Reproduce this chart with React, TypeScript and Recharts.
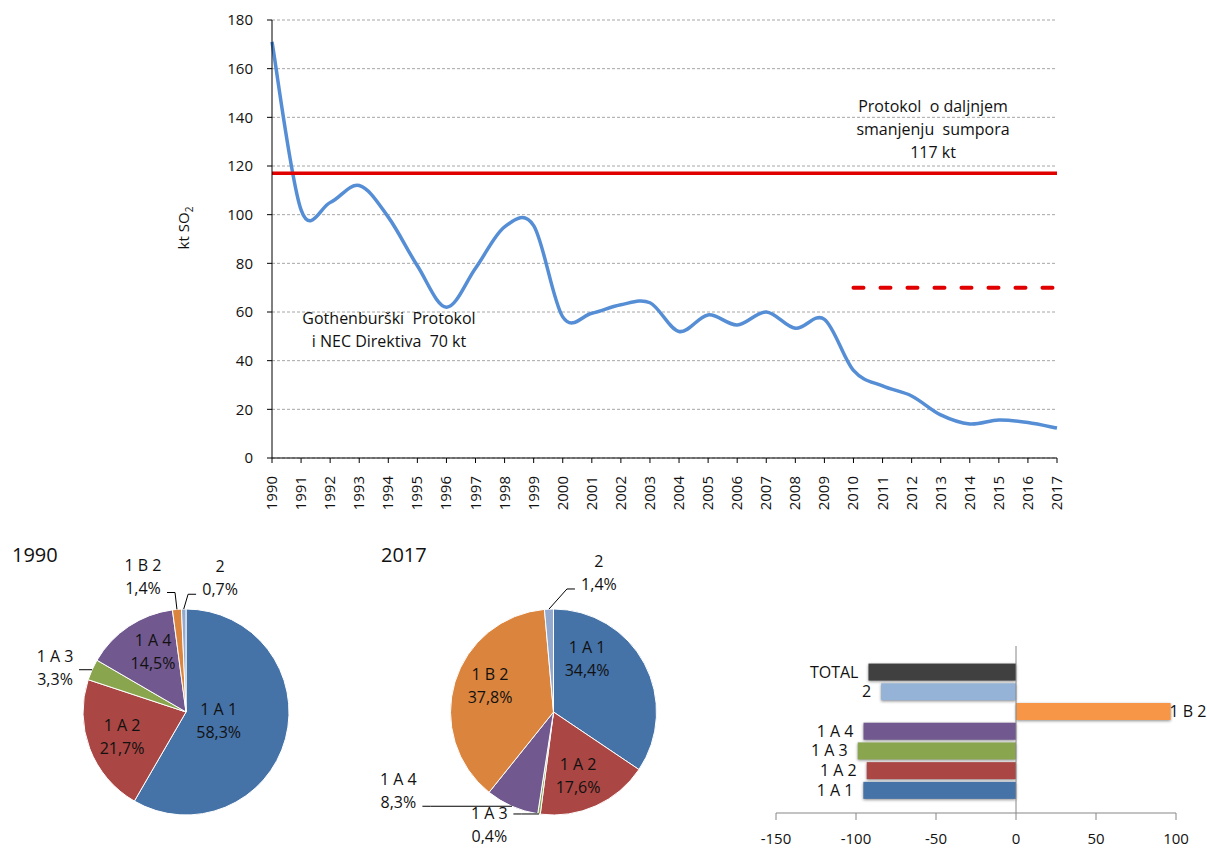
import React from 'react';
import {
  LineChart, Line, XAxis, YAxis, CartesianGrid, ReferenceLine,
  PieChart, Pie, Cell, BarChart, Bar, LabelList,
} from 'recharts';

const FONT = "'Open Sans', 'Noto Sans', sans-serif";
const TEXT = '#111';
const NB = '\u00A0';

// SO2 emissions, kt
const years = [
  '1990', '1991', '1992', '1993', '1994', '1995', '1996', '1997', '1998', '1999',
  '2000', '2001', '2002', '2003', '2004', '2005', '2006', '2007', '2008', '2009',
  '2010', '2011', '2012', '2013', '2014', '2015', '2016', '2017',
];
const emissions = [
  171, 102, 105, 112, 99, 79, 62, 78, 95, 95.5,
  58, 59.5, 63, 63.8, 52, 58.8, 54.7, 60, 53.3, 57,
  36, 29.6, 25.5, 17.7, 14, 15.6, 14.6, 12.3,
];
const yTicks = [0, 20, 40, 60, 80, 100, 120, 140, 160, 180];
const protocolLimit = 117;
const necLimit = 70;
const necFrom = '2010';

// sector shares, %
const sectors = ['1 A 1', '1 A 2', '1 A 3', '1 A 4', '1 B 2', '2'];
const share1990 = [58.3, 21.7, 3.3, 14.5, 1.4, 0.7];
const share2017 = [34.4, 17.6, 0.4, 8.3, 37.8, 1.4];
const pieColors = ['#4572A7', '#AA4643', '#89A54E', '#71588F', '#DB843D', '#93A9CF'];

// change 1990-2017, %
const barNames = ['TOTAL', '2', '1 B 2', '1 A 4', '1 A 3', '1 A 2', '1 A 1'];
const barChanges = [-92.2, -84.3, 96.6, -95.3, -98.9, -93.3, -95.4];
const barColors = ['#404040', '#95B3D7', '#F79646', '#71588F', '#89A54E', '#AA4643', '#4572A7'];
const barTicks = [-150, -100, -50, 0, 50, 100];

const lineData = years.map((year, i) => ({ year, so2: emissions[i] }));
const pie1990 = sectors.map((name, i) => ({ name, value: share1990[i] }));
const pie2017 = sectors.map((name, i) => ({ name, value: share2017[i] }));
const barData = barNames.map((name, i) => ({ name, value: barChanges[i] }));

// label placement (angle in degrees, radius as a factor of the pie radius)
const labels1990 = [
  { angle: -16, r: 0.33 }, { angle: -159, r: 0.665 }, { angle: 161.6, r: 1.34 },
  { angle: 118.8, r: 0.665 }, { angle: 107.6, r: 1.38 }, { angle: 75.7, r: 1.34 },
];
const labels2017 = [
  { angle: 57.7, r: 0.61 }, { angle: -69, r: 0.665 }, { angle: -119.6, r: 1.26 },
  { angle: -153, r: 1.69 }, { angle: 157.7, r: 0.666 }, { angle: 71.9, r: 1.42 },
];

// Excel-like smoothed line (Catmull-Rom through every point)
function excelSmooth(context: any) {
  let pts: number[][] = [];
  return {
    areaStart() {},
    areaEnd() {},
    lineStart() { pts = []; },
    lineEnd() {
      const n = pts.length;
      if (!n) return;
      context.moveTo(pts[0][0], pts[0][1]);
      for (let i = 0; i < n - 1; i++) {
        const p0 = pts[Math.max(i - 1, 0)];
        const p1 = pts[i];
        const p2 = pts[i + 1];
        const p3 = pts[Math.min(i + 2, n - 1)];
        context.bezierCurveTo(
          p1[0] + (p2[0] - p0[0]) / 6, p1[1] + (p2[1] - p0[1]) / 6,
          p2[0] - (p3[0] - p1[0]) / 6, p2[1] - (p3[1] - p1[1]) / 6,
          p2[0], p2[1],
        );
      }
    },
    point(x: number, y: number) { pts.push([+x, +y]); },
  };
}

const YearTick = ({ x, y, payload }: any) => (
  <text
    x={x} y={y} dx={-11} dy={5}
    transform={`rotate(-90, ${x}, ${y})`}
    textAnchor="end" fontSize={15} fontFamily={FONT} fill={TEXT}
  >
    {payload.value}
  </text>
);

const pct = (v: number) => `${v.toFixed(1).replace('.', ',')}%`;

const pieLabel = (placements: { angle: number; r: number }[]) => (props: any) => {
  const { cx, cy, outerRadius, midAngle, index, name, value } = props;
  const RAD = Math.PI / 180;
  const p = placements[index];
  const lx = cx + outerRadius * p.r * Math.cos(p.angle * RAD);
  const ly = cy - outerRadius * p.r * Math.sin(p.angle * RAD);
  let leader = null;
  if (p.r > 1) {
    const ex = cx + outerRadius * Math.cos(-midAngle * RAD);
    const ey = cy + outerRadius * Math.sin(-midAngle * RAD);
    const side = ex > lx ? 1 : -1;
    const ax = lx + side * 24;
    const ay = Math.min(Math.max(ey, ly - 12), ly + 16);
    leader = (
      <polyline
        points={`${ax},${ay} ${ax + side * 8},${ay} ${ex},${ey}`}
        fill="none" stroke="#000" strokeWidth={1}
      />
    );
  }
  return (
    <g>
      {leader}
      <text x={lx} y={ly - 6} textAnchor="middle" fontSize={16} fontFamily={FONT} fill={TEXT}>{name}</text>
      <text x={lx} y={ly + 17} textAnchor="middle" fontSize={16} fontFamily={FONT} fill={TEXT}>{pct(value)}</text>
    </g>
  );
};

const ShadowBar = (props: any) => {
  const { x, y, width, height, fill } = props;
  return (
    <rect
      x={Math.min(x, x + width)} y={y} width={Math.abs(width)} height={height} fill={fill}
      style={{ filter: 'drop-shadow(0px 1px 1.5px rgba(0,0,0,0.45))' }}
    />
  );
};

const BarNameLabel = (props: any) => {
  const { x, y, width, height, value } = props;
  const left = Math.min(x, x + width);
  const right = Math.max(x, x + width);
  const neg = barChanges[barNames.indexOf(value)] < 0;
  return (
    <text
      x={neg ? left - 10 : right - 1} y={y + height / 2 + 5.5}
      textAnchor={neg ? 'end' : 'start'} fontSize={16} fontFamily={FONT} fill={TEXT}
    >
      {value}
    </text>
  );
};

export default function App() {
  return (
    <div style={{ position: 'absolute', left: 0, top: 0, width: 1207, height: 848, background: '#fff', fontFamily: FONT }}>
      <div style={{ position: 'absolute', left: 0, top: 0 }}>
        <LineChart width={1100} height={525} data={lineData} margin={{ top: 20, right: 43, left: 212, bottom: 7 }}>
          <CartesianGrid vertical={false} stroke="#a6a6a6" strokeDasharray="3 2" />
          <XAxis
            dataKey="year" interval={0} height={60} tickSize={5}
            tick={<YearTick />} axisLine={{ stroke: '#000' }} tickLine={{ stroke: '#000' }}
          />
          <YAxis
            domain={[0, 180]} ticks={yTicks} width={60} tickSize={5} tickMargin={14}
            tick={{ fontSize: 15, fontFamily: FONT, fill: TEXT }}
            axisLine={{ stroke: '#000' }} tickLine={{ stroke: '#000' }}
          />
          <Line
            type={excelSmooth as any} dataKey="so2" stroke="#558ED5" strokeWidth={3.5}
            dot={false} activeDot={false} isAnimationActive={false}
          />
          <ReferenceLine y={protocolLimit} stroke="#E00000" strokeWidth={3.5} />
          <ReferenceLine
            segment={[{ x: necFrom, y: necLimit }, { x: years[years.length - 1], y: necLimit }]}
            stroke="#E00000" strokeWidth={4} strokeDasharray="10 17" strokeLinecap="round"
          />
          <text x={189} y={228} transform="rotate(-90, 189, 228)" textAnchor="middle" fontSize={15} fontFamily={FONT} fill={TEXT}>
            kt SO<tspan fontSize={10} dy={4}>2</tspan>
          </text>
          <g fontSize={16} fontFamily={FONT} fill={TEXT} textAnchor="middle">
            <text x={933} y={112}>{`Protokol ${NB}o daljnjem`}</text>
            <text x={933} y={135}>{`smanjenju ${NB}sumpora`}</text>
            <text x={933} y={158}>117 kt</text>
            <text x={389} y={324}>{`Gothenburški ${NB}Protokol`}</text>
            <text x={389} y={347}>{`i NEC Direktiva ${NB}70 kt`}</text>
          </g>
        </LineChart>
      </div>

      <div style={{ position: 'absolute', left: 0, top: 530 }}>
        <PieChart width={700} height={318} margin={{ top: 0, right: 0, left: 0, bottom: 0 }}>
          <text x={12} y={32} fontSize={20} fontFamily={FONT} fill={TEXT}>1990</text>
          <text x={381} y={32} fontSize={20} fontFamily={FONT} fill={TEXT}>2017</text>
          <Pie
            data={pie1990} dataKey="value" nameKey="name" cx={186} cy={182} outerRadius={103}
            startAngle={90} endAngle={-270} stroke="#fff" strokeWidth={1}
            label={pieLabel(labels1990)} labelLine={false} isAnimationActive={false}
          >
            {pie1990.map((d, i) => <Cell key={d.name} fill={pieColors[i]} />)}
          </Pie>
          <Pie
            data={pie2017} dataKey="value" nameKey="name" cx={553.5} cy={182} outerRadius={103}
            startAngle={90} endAngle={-270} stroke="#fff" strokeWidth={1}
            label={pieLabel(labels2017)} labelLine={false} isAnimationActive={false}
          >
            {pie2017.map((d, i) => <Cell key={d.name} fill={pieColors[i]} />)}
          </Pie>
        </PieChart>
      </div>

      <div style={{ position: 'absolute', left: 700, top: 600 }}>
        <BarChart
          width={507} height={248} data={barData} layout="vertical"
          margin={{ top: 46, right: 31, left: 76, bottom: 5 }} barCategoryGap="8%"
        >
          <XAxis
            type="number" domain={[-150, 100]} ticks={barTicks} height={30} tickSize={7} tickMargin={13}
            tick={{ fontSize: 15, fontFamily: FONT, fill: TEXT }}
            axisLine={{ stroke: '#868686' }} tickLine={{ stroke: '#868686' }}
          />
          <YAxis type="category" dataKey="name" hide padding={{ top: 16, bottom: 13 }} />
          <ReferenceLine x={0} stroke="#868686" />
          <Bar dataKey="value" shape={<ShadowBar />} isAnimationActive={false}>
            {barData.map((d, i) => <Cell key={d.name} fill={barColors[i]} />)}
            <LabelList dataKey="name" content={<BarNameLabel />} />
          </Bar>
        </BarChart>
      </div>
    </div>
  );
}
